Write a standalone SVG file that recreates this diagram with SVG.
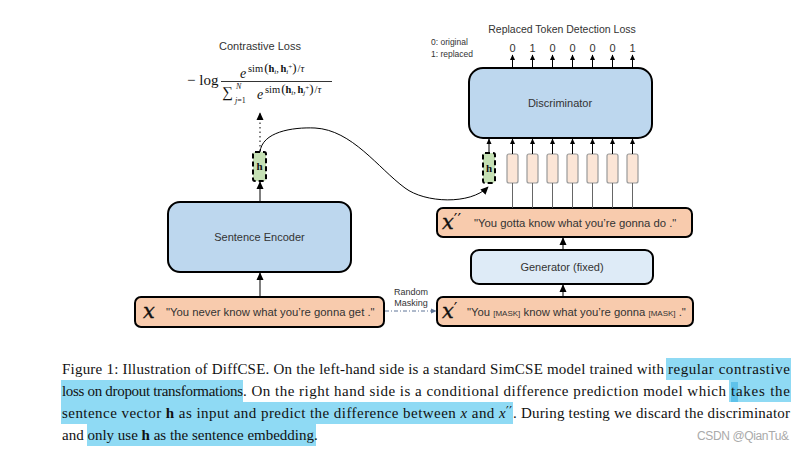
<svg xmlns="http://www.w3.org/2000/svg" width="806" height="451" viewBox="0 0 806 451">
<defs>
<style>
.sans{font-family:"Liberation Sans",Arial,sans-serif;fill:#333}
.serif{font-family:"Liberation Serif","Times New Roman",serif;fill:#111}
.mx{font-family:"DejaVu Serif","Liberation Serif",serif;font-style:italic;fill:#111;stroke:#111;stroke-width:0.35}
.pr{font-family:"DejaVu Sans","Liberation Sans",sans-serif;font-style:normal;stroke:none}
.sent{fill:#f8cbad;stroke:#000;stroke-width:2}
.blue{fill:#bdd7ee;stroke:#000;stroke-width:2}
.gen{fill:#deebf7;stroke:#000;stroke-width:2}
.hv{fill:#c5e0b4;stroke:#000;stroke-width:2;stroke-dasharray:5 3}
.vec{fill:#fbe5d6;stroke:#9a9a9a;stroke-width:1.2}
.hl{fill:#8fdaf4}
.ln{stroke:#000;fill:none;stroke-width:1}
.thin{stroke:#555;fill:none;stroke-width:0.9}
</style>
<marker id="ah" viewBox="0 0 10 10" refX="9" refY="5" markerWidth="6" markerHeight="6" markerUnits="userSpaceOnUse" orient="auto"><path d="M0,0.5 L10,5 L0,9.5 z" fill="#000"/></marker>
<marker id="ahb" viewBox="0 0 10 10" refX="9" refY="5" markerWidth="8" markerHeight="8" markerUnits="userSpaceOnUse" orient="auto"><path d="M0,0.5 L10,5 L0,9.5 z" fill="#000"/></marker>
<marker id="ahg" viewBox="0 0 10 10" refX="9" refY="5" markerWidth="6" markerHeight="6" markerUnits="userSpaceOnUse" orient="auto"><path d="M0,0.5 L10,5 L0,9.5 z" fill="#5f7597"/></marker>
</defs>
<rect width="806" height="451" fill="#fff"/>

<g id="contrastive-loss">
<text class="sans" x="260" y="50" font-size="11" text-anchor="middle">Contrastive Loss</text>
<text class="serif" x="187" y="85" font-size="15">− log</text>
<line x1="221" y1="81.5" x2="332" y2="81.5" stroke="#000" stroke-width="0.8"/>
<text class="serif" x="240" y="78" font-size="14" font-style="italic">e</text>
<text class="serif" x="248" y="72" font-size="10.5">sim<tspan font-size="13" dx="1">(</tspan><tspan font-weight="bold">h</tspan><tspan font-size="7" font-style="italic" dy="2">i</tspan><tspan dy="-2">,</tspan><tspan font-weight="bold" dx="1.5">h</tspan><tspan font-size="7" font-style="italic" dy="2">i</tspan><tspan font-size="7" dy="-5">+</tspan><tspan font-size="13" dy="3">)</tspan><tspan dx="1">/</tspan><tspan font-style="italic">τ</tspan></text>
<text class="serif" x="222" y="97" font-size="15">∑</text>
<text class="serif" x="236" y="89" font-size="8" font-style="italic">N</text>
<text class="serif" x="235" y="103" font-size="8"><tspan font-style="italic">j</tspan>=1</text>
<text class="serif" x="257" y="99" font-size="14" font-style="italic">e</text>
<text class="serif" x="265" y="93" font-size="10.5">sim<tspan font-size="13" dx="1">(</tspan><tspan font-weight="bold">h</tspan><tspan font-size="7" font-style="italic" dy="2">i</tspan><tspan dy="-2">,</tspan><tspan font-weight="bold" dx="1.5">h</tspan><tspan font-size="7" font-style="italic" dy="2">j</tspan><tspan font-size="7" dy="-5">+</tspan><tspan font-size="13" dy="3">)</tspan><tspan dx="1">/</tspan><tspan font-style="italic">τ</tspan></text>
</g>

<g id="h-left">
<rect class="hv" x="253" y="152" width="13" height="29" rx="2"/>
<text class="serif" x="259.5" y="170" font-size="11" font-weight="bold" text-anchor="middle">h</text>
</g>

<g id="sentence-encoder">
<rect class="blue" x="168" y="202" width="183" height="70" rx="12"/>
<text class="sans" x="259.5" y="241" font-size="11" text-anchor="middle">Sentence Encoder</text>
</g>

<g id="x-input">
<rect class="sent" x="135" y="297" width="249" height="30" rx="6"/>
<text class="mx" x="143" y="318" font-size="21">x</text>
<text class="sans" x="166" y="316" font-size="11.3">"You never know what you’re gonna get ."</text>
</g>

<g id="random-masking">
<text class="sans" x="411" y="295" font-size="9" text-anchor="middle" fill="#555">Random</text>
<text class="sans" x="411" y="306" font-size="9" text-anchor="middle" fill="#555">Masking</text>
</g>

<g id="x-prime">
<rect class="sent" x="437" y="297" width="256" height="29" rx="6"/>
<text class="mx" x="442" y="318" font-size="21">x<tspan class="pr" font-size="16" dy="-4">′</tspan></text>
<text class="sans" x="467" y="316" font-size="11.3">"You <tspan font-size="8">[MASK]</tspan> know what you’re gonna <tspan font-size="8">[MASK]</tspan> ."</text>
</g>

<g id="generator">
<rect class="gen" x="471" y="250" width="182" height="34" rx="8"/>
<text class="sans" x="562" y="271" font-size="11" text-anchor="middle">Generator (fixed)</text>
</g>

<g id="x-dprime">
<rect class="sent" x="437" y="208" width="255" height="29" rx="6"/>
<text class="mx" x="442" y="229" font-size="21">x<tspan class="pr" font-size="16" dy="-4">′′</tspan></text>
<text class="sans" x="474" y="227" font-size="11.3">"You gotta know what you’re gonna do ."</text>
</g>

<g id="h-right">
<rect class="hv" x="483" y="153" width="12" height="30" rx="2"/>
<text class="serif" x="489" y="172" font-size="11" font-weight="bold" text-anchor="middle">h</text>
</g>

<g id="token-vectors">
<rect class="vec" x="507" y="154" width="11" height="29" rx="2"/>
<rect class="vec" x="527" y="154" width="11" height="29" rx="2"/>
<rect class="vec" x="547" y="154" width="11" height="29" rx="2"/>
<rect class="vec" x="567" y="154" width="11" height="29" rx="2"/>
<rect class="vec" x="587" y="154" width="11" height="29" rx="2"/>
<rect class="vec" x="607" y="154" width="11" height="29" rx="2"/>
<rect class="vec" x="627" y="154" width="11" height="29" rx="2"/>
</g>

<g id="discriminator">
<rect class="blue" x="469" y="68" width="183" height="70" rx="14"/>
<text class="sans" x="560" y="107" font-size="11" text-anchor="middle">Discriminator</text>
</g>

<g id="rtd-loss">
<text class="sans" x="562" y="33" font-size="10.5" text-anchor="middle">Replaced Token Detection Loss</text>
<text class="sans" x="431" y="45" font-size="8.5">0: original</text>
<text class="sans" x="431" y="57" font-size="8.5">1: replaced</text>
<g class="sans" font-size="11" text-anchor="middle">
<text x="512.5" y="52">0</text><text x="532.5" y="52">1</text><text x="552.5" y="52">0</text><text x="572.5" y="52">0</text><text x="592.5" y="52">0</text><text x="612.5" y="52">0</text><text x="632.5" y="52">1</text>
</g>
</g>

<g id="connectors">
<line class="ln" x1="260" y1="297" x2="260" y2="273" stroke-width="1.3" marker-end="url(#ahb)"/>
<line class="ln" x1="260" y1="202" x2="260" y2="182" stroke-width="1.3" marker-end="url(#ahb)"/>
<line class="ln" x1="260" y1="151" x2="260" y2="113" stroke-width="1.3" stroke-dasharray="1.5 3" marker-end="url(#ahb)"/>
<path class="ln" d="M260,152 C262,132 292,127 315,128 C352,130 378,168 405,188 C425,203 470,205 488,187" stroke-width="1.1" marker-end="url(#ahb)"/>
<line x1="385" y1="311" x2="436" y2="311" stroke="#5f7597" stroke-width="1" stroke-dasharray="4 2 1 2" marker-end="url(#ahg)"/>
<line class="ln" x1="563" y1="297" x2="563" y2="285" stroke-width="1.3" marker-end="url(#ahb)"/>
<line class="ln" x1="563" y1="250" x2="563" y2="238" stroke-width="1.3" marker-end="url(#ahb)"/>
<g class="thin">
<line x1="512.5" y1="208" x2="512.5" y2="183"/><line x1="532.5" y1="208" x2="532.5" y2="183"/><line x1="552.5" y1="208" x2="552.5" y2="183"/><line x1="572.5" y1="208" x2="572.5" y2="183"/><line x1="592.5" y1="208" x2="592.5" y2="183"/><line x1="612.5" y1="208" x2="612.5" y2="183"/><line x1="632.5" y1="208" x2="632.5" y2="183"/>
</g>
<g class="ln">
<line x1="489" y1="153" x2="489" y2="139" marker-end="url(#ah)"/>
<line x1="512.5" y1="154" x2="512.5" y2="139" marker-end="url(#ah)"/><line x1="532.5" y1="154" x2="532.5" y2="139" marker-end="url(#ah)"/><line x1="552.5" y1="154" x2="552.5" y2="139" marker-end="url(#ah)"/><line x1="572.5" y1="154" x2="572.5" y2="139" marker-end="url(#ah)"/><line x1="592.5" y1="154" x2="592.5" y2="139" marker-end="url(#ah)"/><line x1="612.5" y1="154" x2="612.5" y2="139" marker-end="url(#ah)"/><line x1="632.5" y1="154" x2="632.5" y2="139" marker-end="url(#ah)"/>
<line x1="512.5" y1="67" x2="512.5" y2="55" marker-end="url(#ah)"/><line x1="532.5" y1="67" x2="532.5" y2="55" marker-end="url(#ah)"/><line x1="552.5" y1="67" x2="552.5" y2="55" marker-end="url(#ah)"/><line x1="572.5" y1="67" x2="572.5" y2="55" marker-end="url(#ah)"/><line x1="592.5" y1="67" x2="592.5" y2="55" marker-end="url(#ah)"/><line x1="612.5" y1="67" x2="612.5" y2="55" marker-end="url(#ah)"/><line x1="632.5" y1="67" x2="632.5" y2="55" marker-end="url(#ah)"/>
</g>
</g>

<g id="caption">
<rect class="hl" x="666" y="358" width="125" height="22"/>
<rect class="hl" x="61" y="380" width="182" height="22"/>
<rect class="hl" x="729" y="380" width="62" height="22"/>
<rect x="731" y="382" width="7" height="20" fill="#5ec2ea"/>
<rect class="hl" x="61" y="402" width="452" height="22"/>
<rect class="hl" x="87" y="424" width="229" height="22"/>
<g class="serif" font-size="15">
<text x="62" y="374" textLength="602" lengthAdjust="spacing">Figure 1: Illustration of DiffCSE. On the left-hand side is a standard SimCSE model trained with</text>
<text x="668" y="374" textLength="122" lengthAdjust="spacing">regular contrastive</text>
<text x="62" y="396" textLength="181" lengthAdjust="spacing">loss on dropout transformations</text>
<text x="243" y="396" textLength="483" lengthAdjust="spacing">. On the right hand side is a conditional difference prediction model which</text>
<text x="731" y="396" textLength="59" lengthAdjust="spacing">takes the</text>
<text x="62" y="418" textLength="450" lengthAdjust="spacing">sentence vector <tspan font-weight="bold">h</tspan> as input and predict the difference between <tspan font-style="italic">x</tspan> and <tspan font-style="italic">x</tspan><tspan font-family="DejaVu Sans" font-size="12" dy="-3">′′</tspan></text>
<text x="513" y="418" textLength="277" lengthAdjust="spacing">. During testing we discard the discriminator</text>
<text x="62" y="440">and only use <tspan font-weight="bold">h</tspan> as the sentence embedding.</text>
</g>
</g>

<text class="sans" x="697" y="440" font-size="12" style="fill:#aaa" textLength="92" lengthAdjust="spacing">CSDN @QianTu&amp;</text>
</svg>
